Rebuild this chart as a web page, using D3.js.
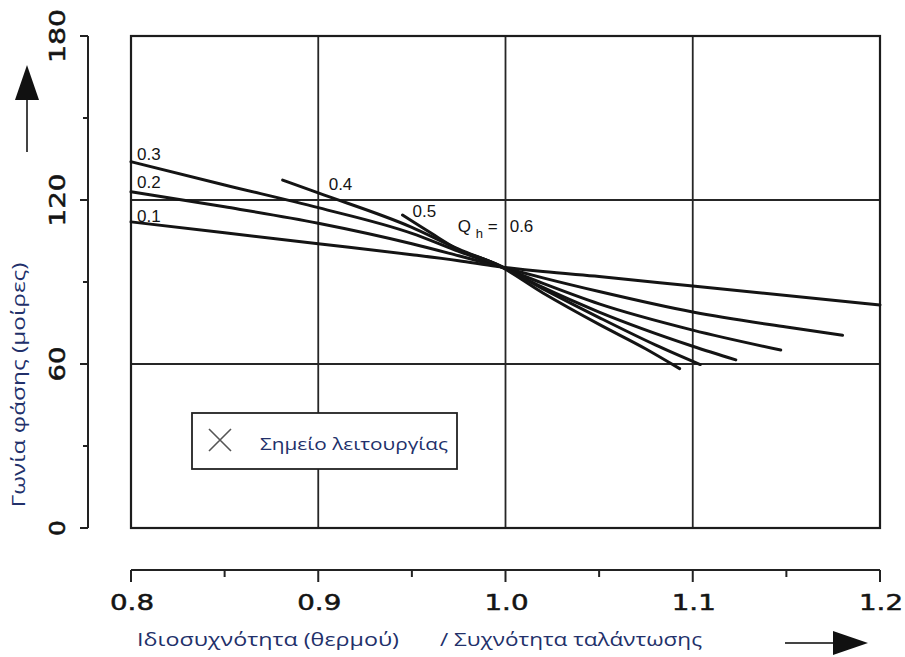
<!DOCTYPE html>
<html><head><meta charset="utf-8">
<script src="https://cdn.jsdelivr.net/npm/d3@7"></script>
<style>body{margin:0;background:#fff}svg{display:block}</style>
</head><body>
<svg id="c" width="905" height="657"></svg>
<script>
// ---- data ----
const xTickValues = [0.8, 0.9, 1.0, 1.1, 1.2];
const xTickLabels = ["0.8", "0.9", "1.0", "1.1", "1.2"];
const xMinorTicks = [0.85, 0.95, 1.05, 1.15];
const yTickValues = [0, 60, 120, 180];
const yTickLabels = ["0", "60", "120", "180"];
const yMinorTicks = [30, 90, 150];
const seriesNames = ["0.1", "0.2", "0.3", "0.4", "0.5", "0.6"];
const q01 = [[0.8,112],[0.9,104],[0.95,100],[0.975,97.8],[0.995,95.8],[1.02,93.8],[1.05,92],[1.1,88.5],[1.2,81.6]];
const q02 = [[0.8,123],[0.85,117.5],[0.9,111.5],[0.95,104],[0.975,99.6],[0.995,96],[1.02,91.5],[1.05,86.5],[1.1,79],[1.15,73.5],[1.18,70.5]];
const q03 = [[0.8,134],[0.85,125.5],[0.9,117.2],[0.95,107.8],[0.975,101.2],[0.995,96.2],[1.02,89.5],[1.05,82],[1.1,72.4],[1.147,65.1]];
const q04 = [[0.881,127.3],[0.9,122.6],[0.95,110],[0.975,102],[0.995,96.5],[1.02,88],[1.05,79],[1.1,66.5],[1.123,61.5]];
const q05 = [[0.945,114.5],[0.96,108],[0.975,101.8],[0.995,96.6],[1.02,87.5],[1.05,77],[1.08,67],[1.104,59.8]];
const q06 = [[0.975,101.5],[0.995,96.5],[1.02,86],[1.05,74.5],[1.075,65.5],[1.093,58.3]];
const series = [q01, q02, q03, q04, q05, q06];
const legendLabel = "Σημείο λειτουργίας";
const xTitle1 = "Ιδιοσυχνότητα (θερμού)";
const xTitle2 = "/ Συχνότητα ταλάντωσης";
const yTitle = "Γωνία φάσης (μοίρες)";

// ---- layout ----
const svg = d3.select("#c");
const x = d3.scaleLinear().domain([0.8, 1.2]).range([131, 880]);
const y = d3.scaleLinear().domain([0, 180]).range([528, 36]);
const ink = "#141414", navy = "#22306a";
const numFont = "'DejaVu Sans', sans-serif";
const greekFont = "'Open Sans', sans-serif";

// grid
const g = svg.append("g");
g.selectAll(".gx").data([0.9, 1.0, 1.1]).join("line")
  .attr("x1", d => x(d)).attr("x2", d => x(d)).attr("y1", y(180)).attr("y2", y(0))
  .attr("stroke", "#262626").attr("stroke-width", 1.8);
g.selectAll(".gy").data([60, 120]).join("line")
  .attr("x1", x(0.8)).attr("x2", x(1.2)).attr("y1", d => y(d)).attr("y2", d => y(d))
  .attr("stroke", "#262626").attr("stroke-width", 1.8);
g.append("rect").attr("x", x(0.8)).attr("y", y(180)).attr("width", x(1.2) - x(0.8)).attr("height", y(0) - y(180))
  .attr("fill", "none").attr("stroke", "#1c1c1c").attr("stroke-width", 2.2);

// curves
const line = d3.line().x(d => x(d[0])).y(d => y(d[1])).curve(d3.curveMonotoneX);
svg.append("g").selectAll("path").data(series).join("path")
  .attr("d", line).attr("fill", "none").attr("stroke", ink).attr("stroke-width", 3).attr("stroke-linecap", "round");

// curve labels
const labOff = [[6, 0], [6, -4], [6, -2], [46, 10], [10, 2]];
const lg = svg.append("g").attr("font-family", "'Liberation Sans', Arial, sans-serif").attr("font-size", 17).attr("fill", ink);
seriesNames.slice(0, 5).forEach((n, i) => {
  const p = series[i][0];
  lg.append("text").attr("x", x(p[0]) + labOff[i][0]).attr("y", y(p[1]) + labOff[i][1]).text(n);
});
{
  const p = q06[0], bx = x(p[0]), by = y(p[1]) - 19;
  lg.append("text").attr("x", bx - 1).attr("y", by).text("Q");
  lg.append("text").attr("x", bx + 17).attr("y", by + 6).attr("font-size", 13).text("h");
  lg.append("text").attr("x", bx + 29).attr("y", by).text("=");
  lg.append("text").attr("x", bx + 51).attr("y", by).text(seriesNames[5]);
}

// legend box
const lb = svg.append("g");
lb.append("rect").attr("x", 192).attr("y", 413).attr("width", 265).attr("height", 56)
  .attr("fill", "#fff").attr("stroke", "#222").attr("stroke-width", 1.8);
lb.append("path").attr("d", "M209,429L231,451M231,429L209,451").attr("stroke", "#555").attr("stroke-width", 1.6);
lb.append("text").attr("x", 260).attr("y", 450).attr("font-family", greekFont).attr("font-size", 17)
  .attr("textLength", 188).attr("lengthAdjust", "spacingAndGlyphs")
  .attr("fill", navy).text(legendLabel);

// separate y axis (left)
const ya = svg.append("g").attr("stroke", "#222").attr("stroke-width", 2);
ya.append("line").attr("x1", 88).attr("x2", 88).attr("y1", y(180)).attr("y2", y(0));
ya.selectAll(".mj").data(yTickValues).join("line").attr("x1", 80).attr("x2", 88).attr("y1", d => y(d)).attr("y2", d => y(d));
ya.selectAll(".mn").data(yMinorTicks).join("line").attr("x1", 83).attr("x2", 88).attr("y1", d => y(d)).attr("y2", d => y(d));
const yLabW = {"0": 16, "60": 35, "120": 53, "180": 54};
svg.append("g").selectAll("text").data(yTickValues).join("text")
  .attr("transform", d => `translate(65,${y(d)}) rotate(-90)`)
  .attr("text-anchor", "middle").attr("font-family", numFont).attr("font-size", 21).attr("fill", ink)
  .attr("stroke", ink).attr("stroke-width", 0.5)
  .attr("textLength", (d, i) => yLabW[yTickLabels[i]]).attr("lengthAdjust", "spacingAndGlyphs")
  .text((d, i) => yTickLabels[i]);

// separate x axis (bottom)
const xa = svg.append("g").attr("stroke", "#222").attr("stroke-width", 2);
xa.append("line").attr("x1", x(0.8)).attr("x2", x(1.2)).attr("y1", 570).attr("y2", 570);
xa.selectAll(".mj").data(xTickValues).join("line").attr("x1", d => x(d)).attr("x2", d => x(d)).attr("y1", 570).attr("y2", 582);
xa.selectAll(".mn").data(xMinorTicks).join("line").attr("x1", d => x(d)).attr("x2", d => x(d)).attr("y1", 570).attr("y2", 577);
svg.append("g").selectAll("text").data(xTickValues).join("text")
  .attr("x", d => x(d) + 1).attr("y", 610).attr("text-anchor", "middle")
  .attr("font-family", numFont).attr("font-size", 21).attr("fill", ink)
  .attr("stroke", ink).attr("stroke-width", 0.5)
  .attr("textLength", 44).attr("lengthAdjust", "spacingAndGlyphs")
  .text((d, i) => xTickLabels[i]);

// titles
svg.append("text").attr("transform", "translate(25,385) rotate(-90)").attr("text-anchor", "middle")
  .attr("font-family", greekFont).attr("font-size", 19).attr("fill", navy)
  .attr("textLength", 245).attr("lengthAdjust", "spacingAndGlyphs").text(yTitle);
svg.append("text").attr("x", 137).attr("y", 646).attr("font-family", greekFont).attr("font-size", 19)
  .attr("textLength", 262).attr("lengthAdjust", "spacingAndGlyphs").attr("fill", navy).text(xTitle1);
svg.append("text").attr("x", 440).attr("y", 646).attr("font-family", greekFont).attr("font-size", 19)
  .attr("textLength", 262).attr("lengthAdjust", "spacingAndGlyphs").attr("fill", navy).text(xTitle2);

// arrows
const ar = svg.append("g").attr("fill", "#111");
ar.append("line").attr("x1", 27).attr("x2", 27).attr("y1", 99).attr("y2", 152).attr("stroke", "#444").attr("stroke-width", 2);
ar.append("path").attr("d", "M27,65L15,100L39,100Z");
ar.append("line").attr("x1", 785).attr("x2", 834).attr("y1", 643).attr("y2", 643).attr("stroke", "#444").attr("stroke-width", 2);
ar.append("path").attr("d", "M868,643L833,631L833,655Z");
</script>
</body></html>
